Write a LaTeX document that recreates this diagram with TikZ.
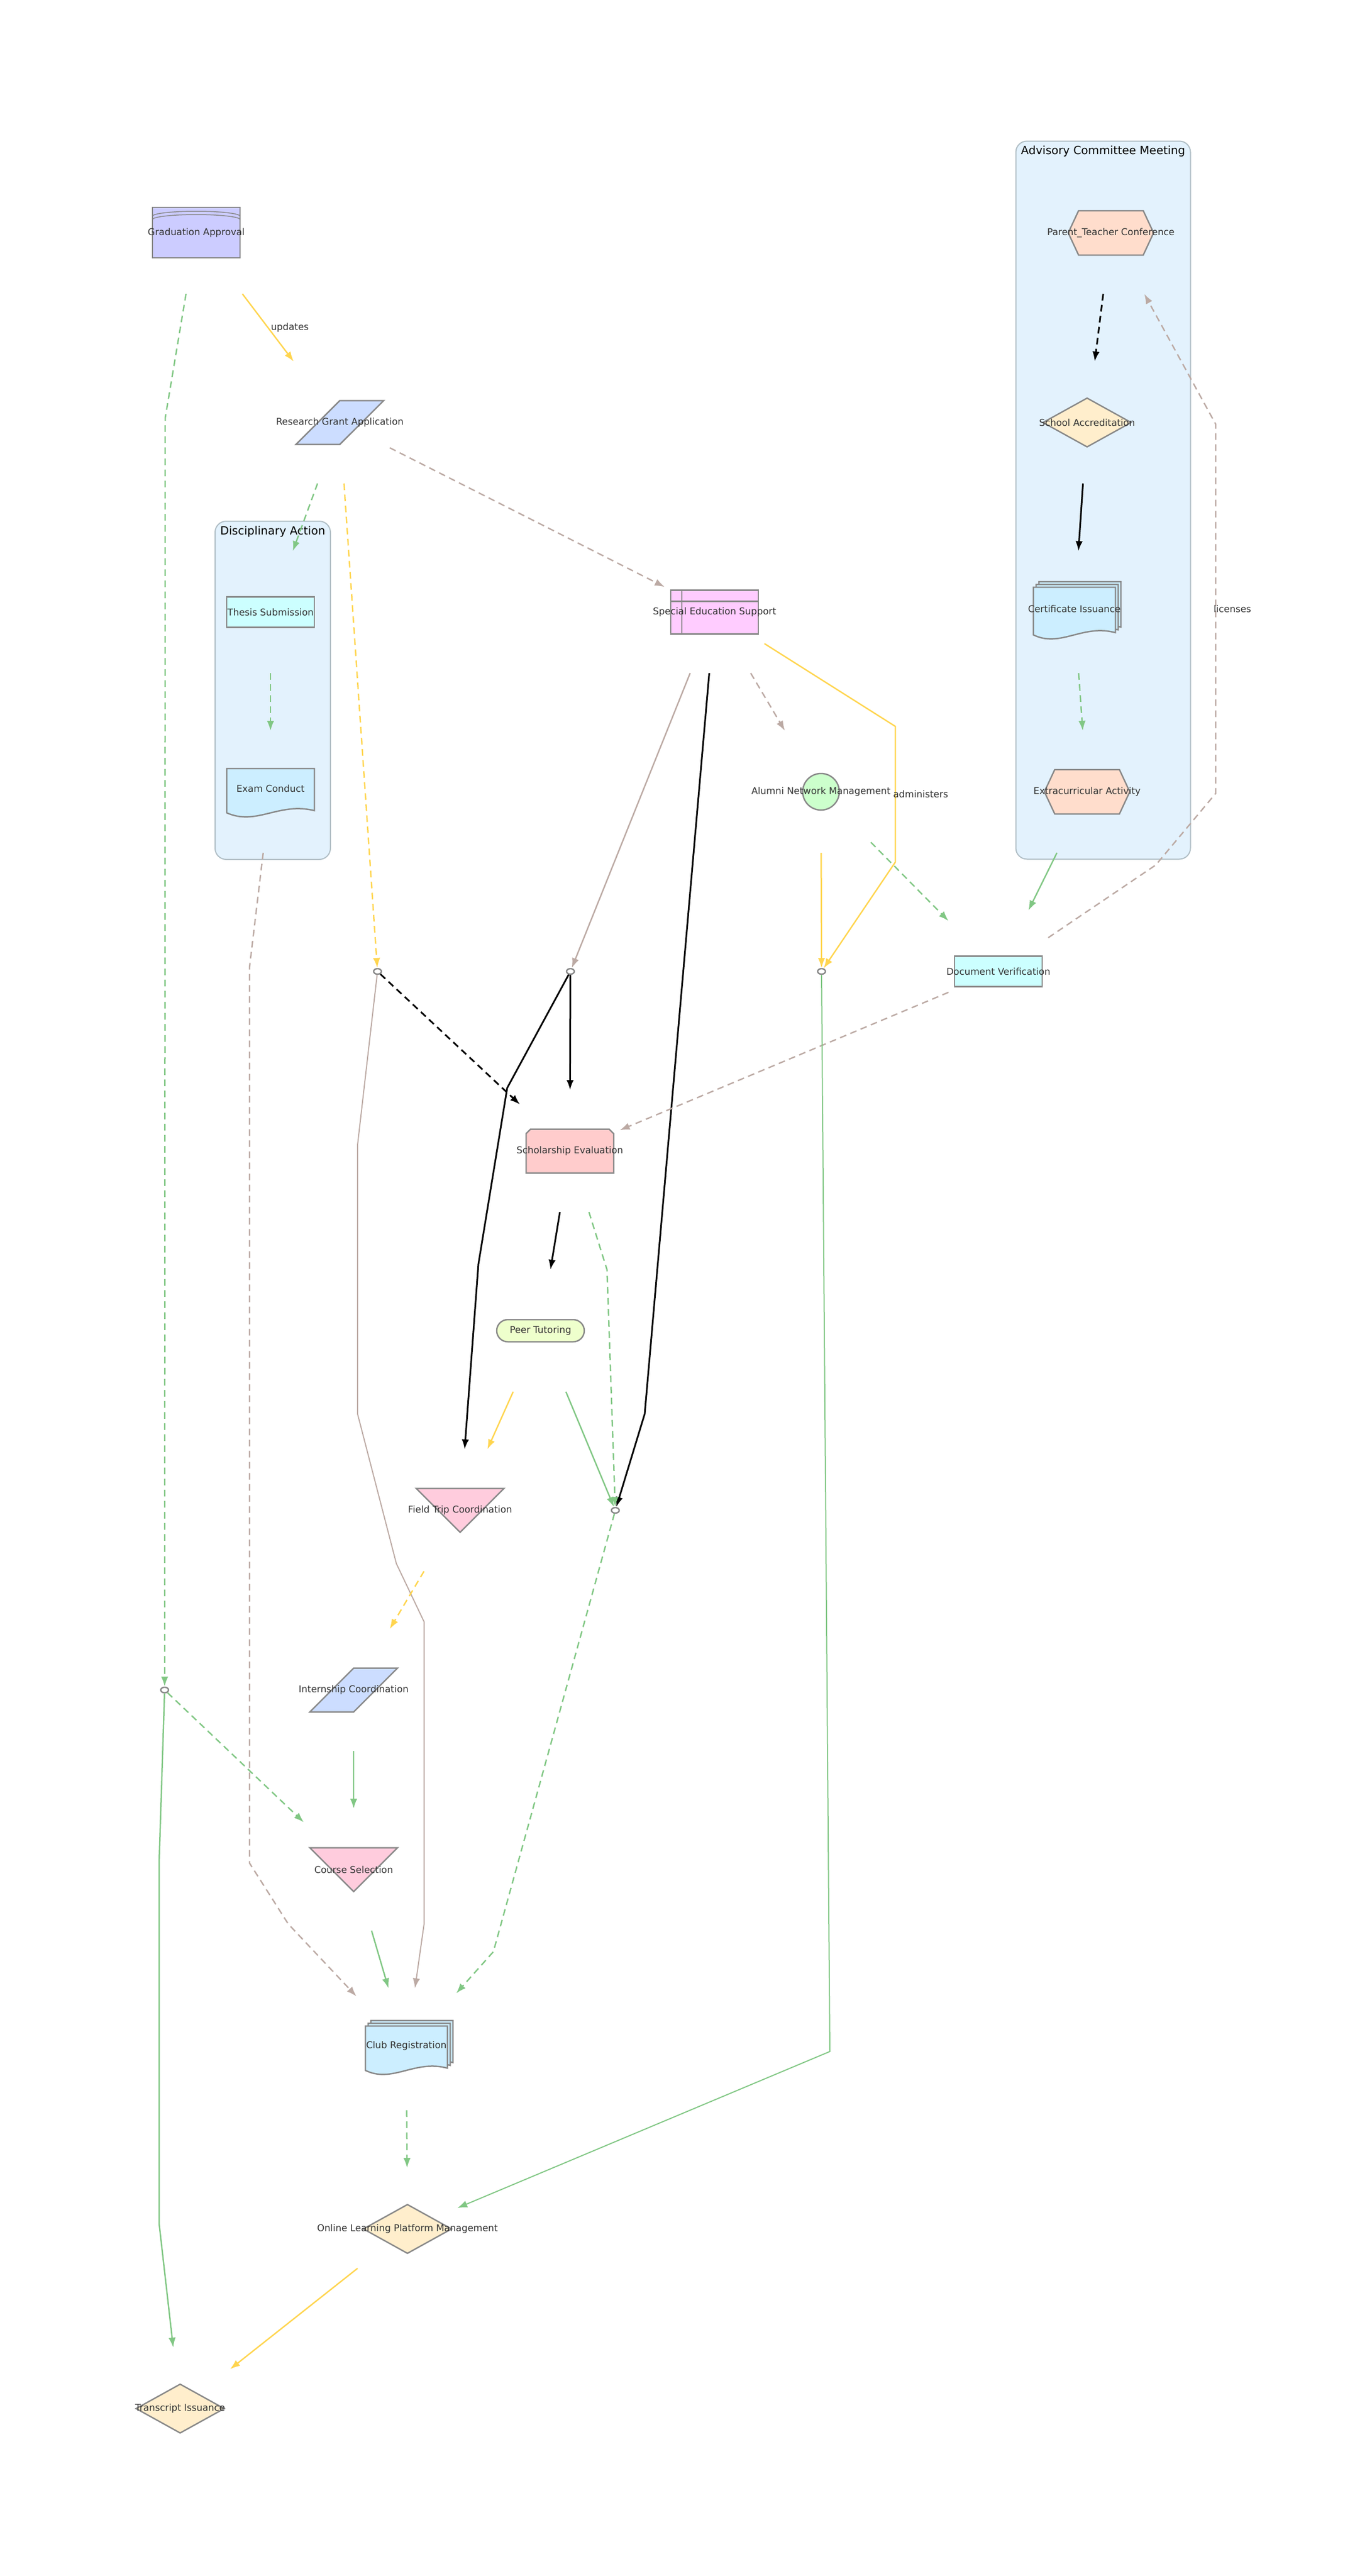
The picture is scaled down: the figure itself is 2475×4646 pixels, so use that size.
\documentclass[tikz,border=0pt]{standalone}
\usepackage{fontspec}
\setmainfont{DejaVu Sans}
\usetikzlibrary{arrows.meta,positioning,calc,shapes.geometric,shapes.misc,shapes.symbols}

\definecolor{ndline}{HTML}{888888}
\definecolor{ndtext}{HTML}{333333}
\definecolor{eyel}{HTML}{FFD54F}
\definecolor{egrn}{HTML}{81C784}
\definecolor{egry}{HTML}{BCAAA4}
\definecolor{clfill}{HTML}{E3F2FD}
\definecolor{clline}{HTML}{B0BEC5}
\definecolor{cLav}{HTML}{CCCCFF}
\definecolor{cBlu}{HTML}{CCDDFF}
\definecolor{cCya}{HTML}{CCFFFF}
\definecolor{cSky}{HTML}{CCEEFF}
\definecolor{cMag}{HTML}{FFCCFF}
\definecolor{cGrn}{HTML}{CCFFCC}
\definecolor{cPch}{HTML}{FFDDCC}
\definecolor{cCrm}{HTML}{FFEECC}
\definecolor{cRed}{HTML}{FFCCCC}
\definecolor{cLim}{HTML}{EEFFCC}
\definecolor{cPnk}{HTML}{FFCCDD}

\newcommand\nlbl[1]{\makebox[0pt]{#1}}
% wavy document outline: node, fill, half width, half height, shift x, shift y
\newcommand\docshape[6]{%
  \draw[nd, fill=#2] ($(#1)+(#5-#3,#6-#4)$) -- ($(#1)+(#5+#3,#6-#4)$)
    -- ($(#1)+(#5+#3,#6+#4-8)$)
    .. controls ($(#1)+(#5+15,#6+#4-24)$) and ($(#1)+(#5-25,#6+#4+20)$) ..
    ($(#1)+(#5-#3,#6+#4-4)$) -- cycle;}

\begin{document}
\begin{tikzpicture}[x=0.1mm, y=-0.1mm, >={Latex[length=1.8mm,width=1.3mm]},
    font=\fontsize{4.8}{5.5}\selectfont,
    hold/.style = {minimum width=18mm, minimum height=22mm, inner sep=0pt, outer sep=0pt},
    nd/.style = {draw=ndline, line width=0.25mm, inner sep=0pt, text=ndtext},
    box/.style = {nd, rectangle, minimum width=15.8mm, minimum height=5.5mm},
    para/.style = {nd, trapezium, trapezium left angle=75, trapezium right angle=105,
        trapezium stretches=true, minimum width=15.8mm, minimum height=7.9mm},
    trap/.style = {nd, trapezium, trapezium angle=75, shape border rotate=180,
        trapezium stretches=true, minimum width=15.8mm, minimum height=7.9mm},
    hexa/.style = {nd, signal, signal to=east and west, signal pointer angle=130,
        minimum width=15.4mm, minimum height=8mm},
    dia/.style = {nd, diamond, minimum width=16mm, minimum height=8.9mm},
    junc/.style = {nd, ellipse, fill=white, minimum width=1.4mm, minimum height=1mm},
    cluster/.style = {draw=clline, fill=clfill, line width=0.2mm, rounded corners=2mm},
    ctitle/.style = {font=\fontsize{5.8}{7}\selectfont, text=black, inner sep=0pt},
    lab/.style = {text=ndtext, inner sep=0.4mm},
    e/.style = {->, line width=0.25mm},
    yl/.style = {e, draw=eyel},
    gn/.style = {e, draw=egrn},
    gy/.style = {e, draw=egry},
    bk/.style = {e, draw=black, line width=0.3mm},
    dsh/.style = {dash pattern=on 1.2mm off 0.8mm}]
    \useasboundingbox (0,0) rectangle (2475,4646);

    % Clusters
    \node[cluster, minimum width=20.8mm, minimum height=61mm] (disc) at (492,1245) {};
    \node[ctitle, below=0.9mm of disc.north] (disc-t) {Disciplinary Action};
    \node[cluster, minimum width=31.5mm, minimum height=129.5mm] (adv) at (1990,902) {};
    \node[ctitle, below=0.9mm of adv.north] (adv-t) {Advisory Committee Meeting};

    % Nodes (holders carry the edges)
    \node[hold] (ga) at (354,420) {};
    \node[nd, cylinder, shape border rotate=90, aspect=0.2, fill=cLav,
        minimum width=15.8mm, minimum height=9.1mm] (ga-s) at (ga) {\nlbl{Graduation Approval}};
    \draw[ndline, line width=0.15mm] ($(ga)+(-79,-30)$) arc[start angle=180, end angle=360, x radius=7.9mm, y radius=-0.9mm];
    \draw[ndline, line width=0.15mm] ($(ga)+(-79,-24)$) arc[start angle=180, end angle=360, x radius=7.9mm, y radius=-0.9mm];
    \node[hold] (rga) at (613,762) {};
    \node[para, fill=cBlu] (rga-s) at (rga) {\nlbl{Research Grant Application}};
    \node[hold] (thesis) at (488,1104) {};
    \node[box, fill=cCya] (thesis-s) at (thesis) {\nlbl{Thesis Submission}};
    \node[hold] (exam) at (488,1428) {};
    \docshape{exam}{cSky}{79}{42}{0}{0}
    \node[lab, inner sep=0pt] (exam-s) at ($(exam)+(0,-6)$) {\nlbl{Exam Conduct}};
    \node[hold] (ses) at (1289,1104) {};
    \node[box, fill=cMag, minimum height=7.9mm] (ses-s) at (ses) {};
    \draw[ndline, line width=0.25mm] ($(ses-s.north west)+(21,0)$) -- ($(ses-s.south west)+(21,0)$)
        ($(ses-s.north west)+(0,21)$) -- ($(ses-s.north east)+(0,21)$);
    \node[lab, inner sep=0pt] (ses-t) at (ses) {\nlbl{Special Education Support}};
    \node[hold] (alumni) at (1481,1428) {};
    \node[nd, circle, fill=cGrn, minimum size=6.6mm] (alumni-s) at (alumni) {\nlbl{Alumni Network Management}};
    \node[hold] (ptc) at (2004,420) {};
    \node[hexa, fill=cPch] (ptc-s) at (ptc) {\nlbl{Parent\_Teacher Conference}};
    \node[hold] (sa) at (1961,762) {};
    \node[dia, fill=cCrm] (sa-s) at (sa) {\nlbl{School Accreditation}};
    \node[hold] (ci) at (1938,1104) {};
    \docshape{ci}{cSky}{74}{45}{10}{-10}
    \docshape{ci}{cSky}{74}{45}{5}{-5}
    \docshape{ci}{cSky}{74}{45}{0}{0}
    \node[lab, inner sep=0pt] (ci-s) at ($(ci)+(0,-6)$) {\nlbl{Certificate Issuance}};
    \node[hold] (ea) at (1961,1428) {};
    \node[hexa, fill=cPch] (ea-s) at (ea) {\nlbl{Extracurricular Activity}};
    \node[hold] (dv) at (1801,1752) {};
    \node[box, fill=cCya] (dv-s) at (dv) {\nlbl{Document Verification}};
    \node[junc] (j1) at (1482,1752) {};
    \node[junc] (j2) at (681,1752) {};
    \node[junc] (j3) at (1029,1752) {};
    \node[hold] (sch) at (1028,2076) {};
    \node[nd, chamfered rectangle, chamfered rectangle corners={north west,north east},
        chamfered rectangle xsep=1.6mm, fill=cRed, minimum width=15.8mm, minimum height=7.9mm] (sch-s) at (sch) {\nlbl{Scholarship Evaluation}};
    \node[hold] (peer) at (975,2400) {};
    \node[nd, rounded corners=2mm, fill=cLim, minimum width=15.8mm, minimum height=4mm] (peer-s) at (peer) {\nlbl{Peer Tutoring}};
    \node[hold] (ftc) at (830,2724) {};
    \node[trap, fill=cPnk] (ftc-s) at (ftc) {\nlbl{Field Trip Coordination}};
    \node[junc] (j4) at (1110,2724) {};
    \node[hold] (intern) at (638,3048) {};
    \node[para, fill=cBlu] (intern-s) at (intern) {\nlbl{Internship Coordination}};
    \node[junc] (j5) at (297,3048) {};
    \node[hold] (course) at (638,3372) {};
    \node[trap, fill=cPnk] (course-s) at (course) {\nlbl{Course Selection}};
    \node[hold] (club) at (733,3696) {};
    \docshape{club}{cSky}{74}{42}{10}{-10}
    \docshape{club}{cSky}{74}{42}{5}{-5}
    \docshape{club}{cSky}{74}{42}{0}{0}
    \node[lab, inner sep=0pt] (club-s) at ($(club)+(0,-6)$) {\nlbl{Club Registration}};
    \node[hold] (olpm) at (735,4020) {};
    \node[dia, fill=cCrm] (olpm-s) at (olpm) {\nlbl{Online Learning Platform Management}};
    \node[hold] (trans) at (325,4344) {};
    \node[dia, fill=cCrm] (trans-s) at (trans) {\nlbl{Transcript Issuance}};

    % Directed edges
    \draw[yl] (ga) -- node[lab, right] (l-upd) {updates} (rga);
    \draw[gn, dsh] (ga) -- (298,754) -- (j5);
    \draw[gy, dsh] (rga) -- (ses);
    \draw[gn, dsh] (rga) -- (thesis);
    \draw[yl, dsh] (rga) -- (j2);
    \draw[gn, dsh] (thesis) -- (exam);
    \draw[gy, dsh] (exam) -- (450,1745) -- (450,3360) -- (520,3470) -- (club);
    \draw[gy] (ses) -- (j3);
    \draw[bk] (ses) -- (1163,2550) -- (j4);
    \draw[gy, dsh] (ses) -- (alumni);
    \draw[yl] (ses) -- (1615,1310) -- node[lab, anchor=west, xshift=-0.9mm] (l-adm) {administers} (1615,1555) -- (j1);
    \draw[yl] (alumni) -- (j1);
    \draw[gn, dsh] (alumni) -- (dv);
    \draw[gn] (ea) -- (dv);
    \draw[bk, dsh] (ptc) -- (sa);
    \draw[bk] (sa) -- (ci);
    \draw[gn, dsh] (ci) -- (ea);
    \draw[gy, dsh] (dv) -- (2085,1560) -- (2193,1431) -- node[lab, anchor=west, xshift=-0.9mm] (l-lic) {licenses} (2193,765) -- (ptc);
    \draw[gy, dsh] (dv) -- (sch);
    \draw[bk, dsh] (j2) -- (sch);
    \draw[bk] (j3) -- (sch);
    \draw[bk] (j3) -- (915,1962) -- (863,2280) -- (ftc);
    \draw[gy, line width=0.2mm] (j2) -- (645,2065) -- (645,2550) -- (715,2820) -- (765,2925) -- (765,3470) -- (club);
    \draw[bk] (sch) -- (peer);
    \draw[gn, dsh] (sch) -- (1095,2290) -- (j4);
    \draw[yl] (peer) -- (ftc);
    \draw[gn] (peer) -- (j4);
    \draw[gn, dsh] (j4) -- (890,3520) -- (club);
    \draw[yl, dsh] (ftc) -- (intern);
    \draw[gn, dsh] (j5) -- (course);
    \draw[gn] (j5) -- (287,3360) -- (287,4010) -- (trans);
    \draw[gn] (intern) -- (course);
    \draw[gn] (course) -- (club);
    \draw[gn, dsh] (club) -- (olpm);
    \draw[gn, line width=0.2mm] (j1) -- (1497,3700) -- (olpm);
    \draw[yl] (olpm) -- (trans);
\end{tikzpicture}
\end{document}
